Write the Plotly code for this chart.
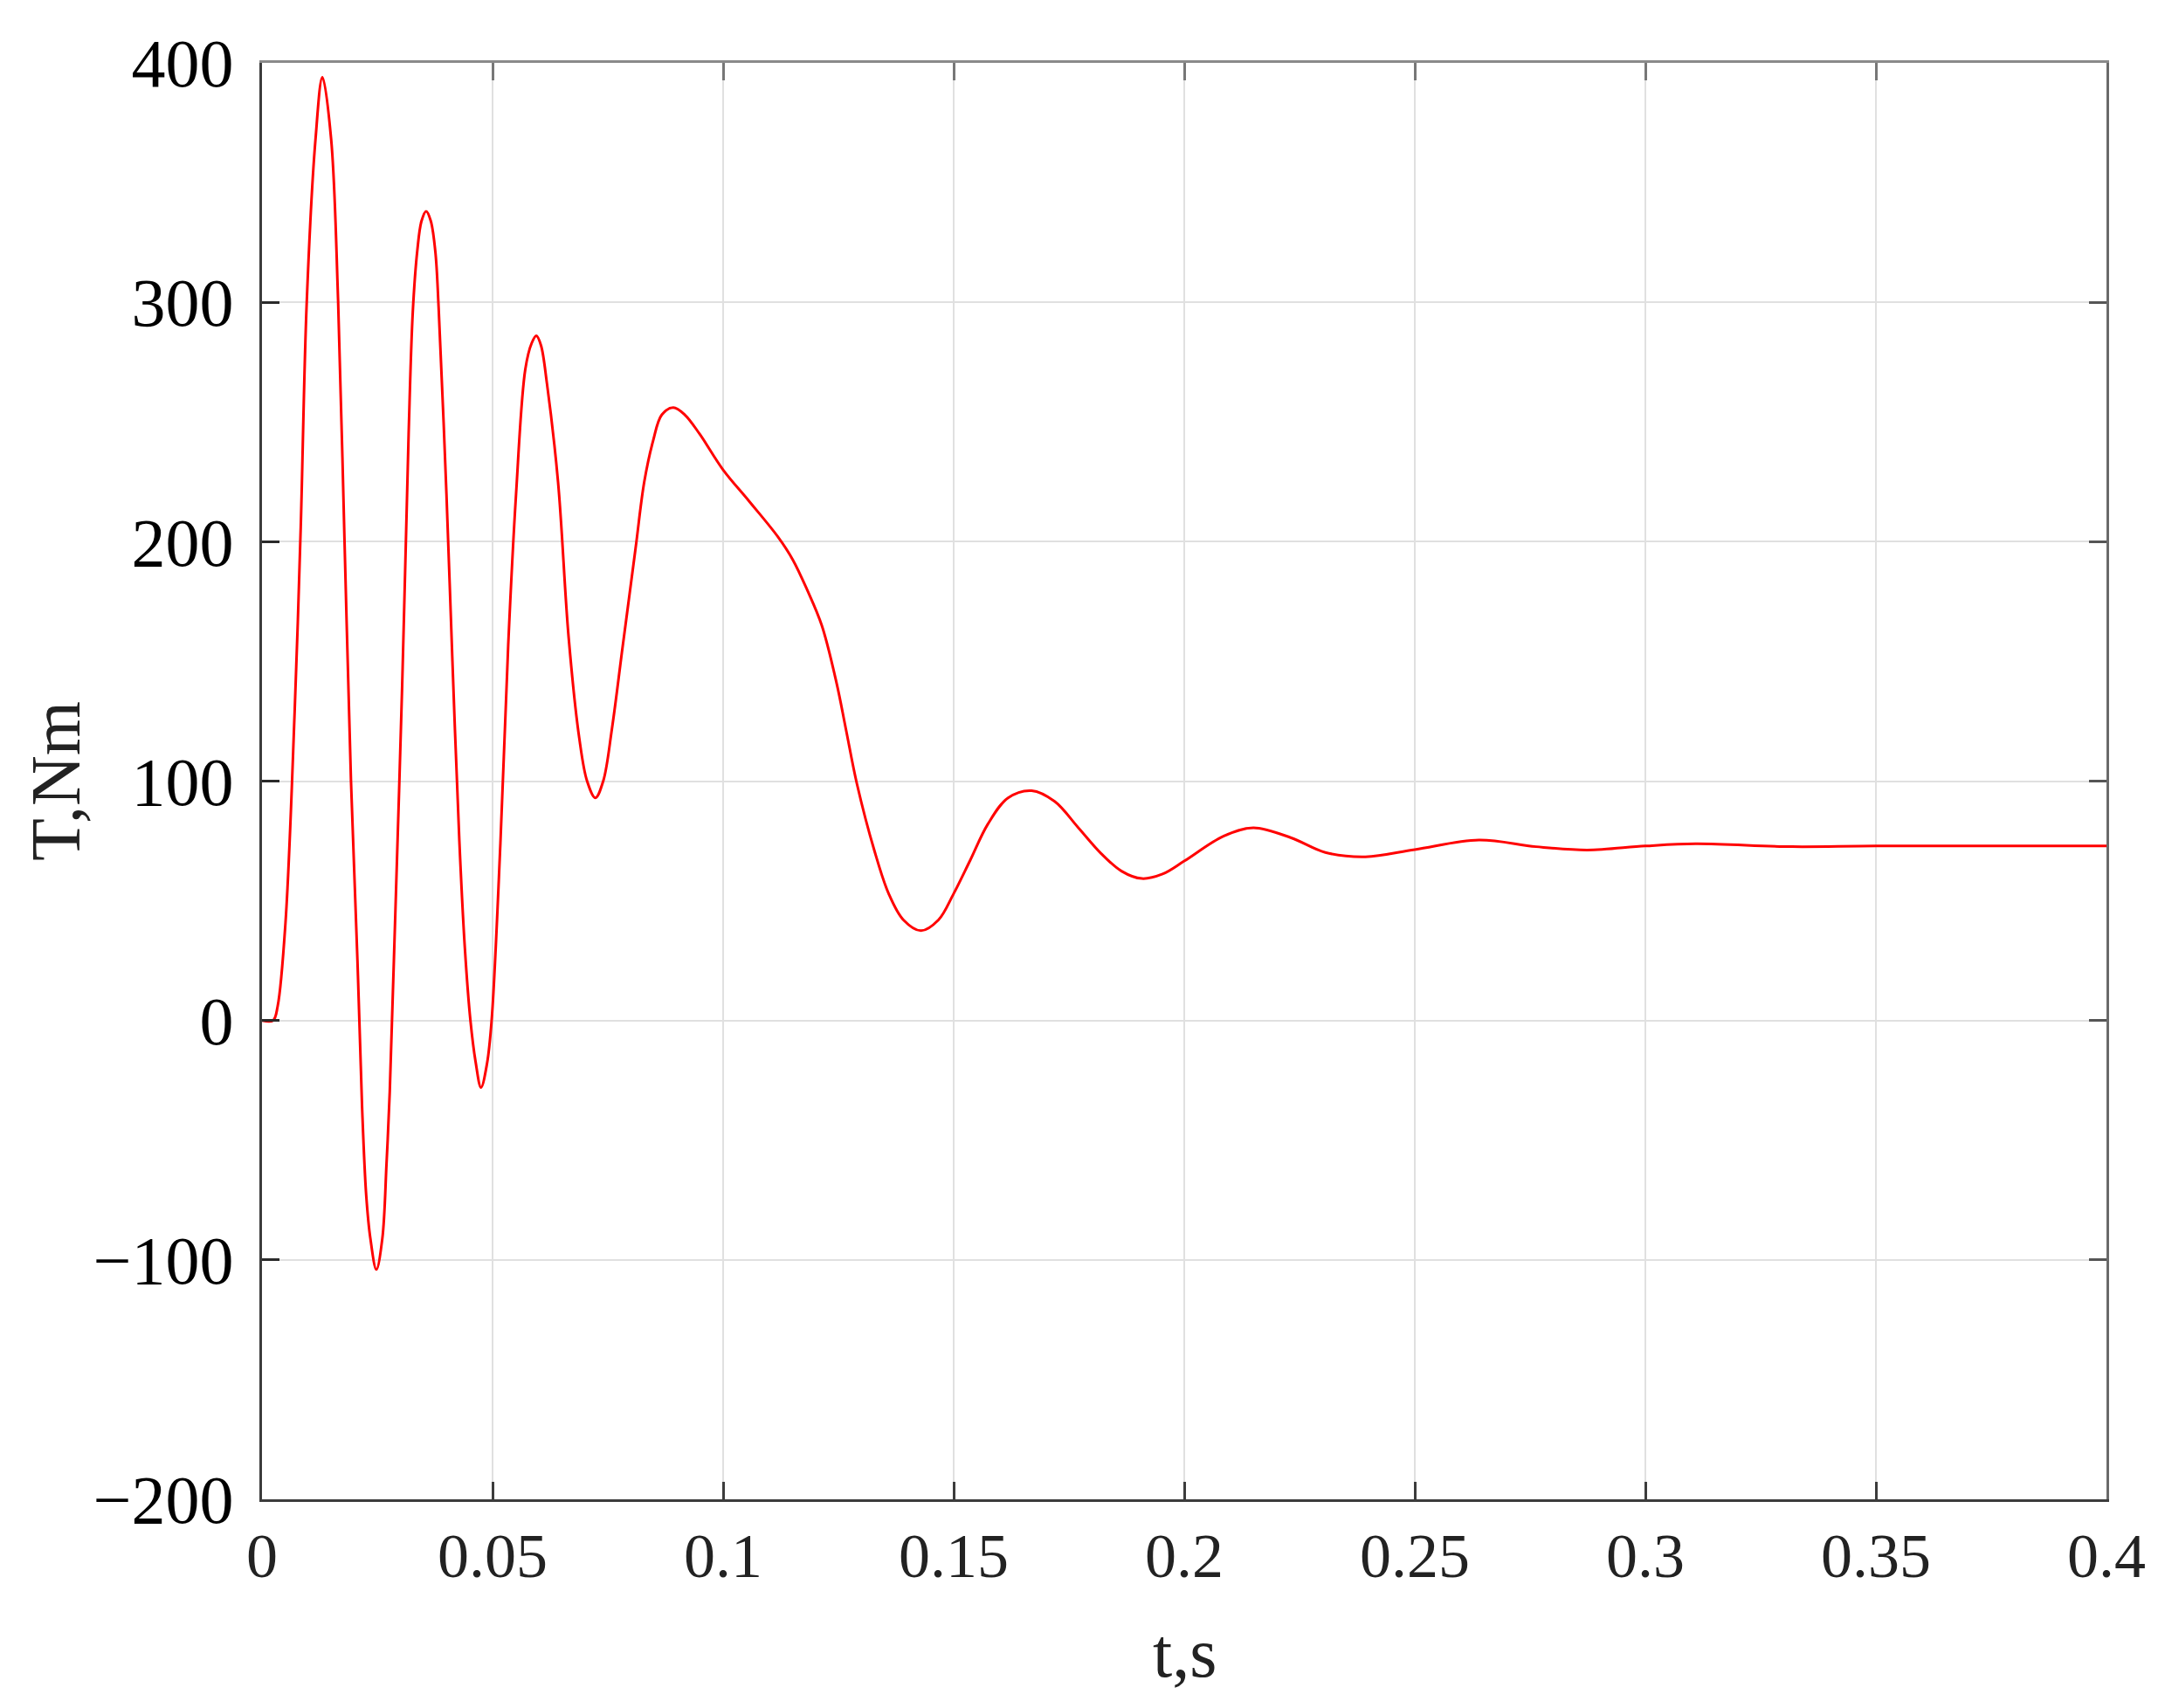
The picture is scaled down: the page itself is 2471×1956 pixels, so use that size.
import plotly.graph_objects as go

# 時間 (s) 與轉矩 (Nm)
t_s = [0.0, 0.0024, 0.0034, 0.0051, 0.0071, 0.0084, 0.0097, 0.0116, 0.0131, 0.0150,
       0.0165, 0.0179, 0.0193, 0.0207, 0.0217, 0.0226, 0.0235, 0.0248, 0.0261, 0.0270,
       0.0277, 0.0286, 0.0304, 0.0318, 0.0327, 0.0337, 0.0346, 0.0356, 0.0366, 0.0376,
       0.0383, 0.0400, 0.0413, 0.0428, 0.0440, 0.0452, 0.0463, 0.0475, 0.0488, 0.0498,
       0.0517, 0.0534, 0.0551, 0.0571, 0.0585, 0.0595, 0.0605, 0.0618, 0.0642, 0.0665,
       0.0688, 0.0705, 0.0723, 0.0740, 0.0759, 0.0782, 0.0810, 0.0829, 0.0848, 0.0867,
       0.0892, 0.0917, 0.0949, 0.1000, 0.1056, 0.1119, 0.1151, 0.1182, 0.1214, 0.1246,
       0.1266, 0.1290, 0.1328, 0.1359, 0.1391, 0.1429, 0.1467, 0.1500, 0.1536, 0.1574,
       0.1618, 0.1669, 0.1719, 0.1770, 0.1820, 0.1864, 0.1908, 0.1953, 0.2000, 0.2085,
       0.2150, 0.2232, 0.2306, 0.2393, 0.2500, 0.2639, 0.2763, 0.2874, 0.3000, 0.3109,
       0.3318, 0.3500, 0.4000]
torque_nm = [0, 0, 6, 41, 130, 206, 300, 368, 394, 368,
             301, 200, 100, 25, -36, -73, -91, -104, -91, -60,
             -30, 25, 140, 245, 296, 322, 334, 338, 334, 321,
             298, 220, 150, 75, 30, 0, -17, -28, -18, 0,
             74, 157, 220, 272, 283, 286, 282, 266, 225, 160,
             118, 100, 93, 100, 122, 156, 197, 225, 242, 253,
             256, 253, 245, 230, 217, 202, 192.5, 180, 165, 141,
             122, 99, 71, 53, 42, 37.5, 42, 53, 67, 82,
             93, 96, 91.5, 80.6, 69.7, 62.4, 59.3, 61.2, 66.6, 77,
             80.5, 76.3, 70.2, 68.4, 71.4, 75.4, 72.6, 71.2, 72.9, 73.8,
             72.6, 72.9, 72.9]

x_ticks = [0, 0.05, 0.1, 0.15, 0.2, 0.25, 0.3, 0.35, 0.4]
x_labels = ["0", "0.05", "0.1", "0.15", "0.2", "0.25", "0.3", "0.35", "0.4"]
y_ticks = [-200, -100, 0, 100, 200, 300, 400]

FONT = "Liberation Serif"

fig = go.Figure()
fig.add_trace(go.Scatter(
    x=t_s, y=torque_nm, mode="lines",
    line=dict(color="#ff0000", width=3, shape="spline", smoothing=1.0),
    showlegend=False, hoverinfo="skip",
))
# 上方與右方的淺灰色邊框（透明副軸）
fig.add_trace(go.Scatter(
    x=t_s, y=torque_nm, mode="lines", xaxis="x2", yaxis="y2",
    line=dict(width=0), opacity=0, showlegend=False, hoverinfo="skip",
))

axis_common = dict(
    showgrid=True, gridcolor="#e0e0e0", gridwidth=2,
    zeroline=False, ticks="inside", ticklen=20, tickwidth=3,
    showline=True, linewidth=3,
)

fig.update_layout(
    width=2471, height=1956,
    paper_bgcolor="white", plot_bgcolor="white",
    margin=dict(l=292, r=67, t=64, b=247),
    xaxis=dict(
        range=[0, 0.4], tickvals=x_ticks, ticktext=x_labels,
        linecolor="#3c3c3c", tickcolor="#3c3c3c",
        tickfont=dict(family=FONT, size=72, color="#222"),
        ticklabelstandoff=0, **axis_common,
    ),
    yaxis=dict(
        range=[-200, 400], tickvals=y_ticks,
        linecolor="#3c3c3c", tickcolor="#2a2a2a",
        tickfont=dict(family=FONT, size=78, color="#000"),
        ticklabelstandoff=14, **axis_common,
    ),
    xaxis2=dict(
        overlaying="x", side="top", range=[0, 0.4], tickvals=x_ticks,
        showticklabels=False, showgrid=False, zeroline=False,
        ticks="inside", ticklen=20, tickwidth=3, tickcolor="#777",
        showline=True, linewidth=3, linecolor="#8a8a8a",
    ),
    yaxis2=dict(
        overlaying="y", side="right", range=[-200, 400], tickvals=y_ticks,
        showticklabels=False, showgrid=False, zeroline=False,
        ticks="inside", ticklen=20, tickwidth=3, tickcolor="#555",
        showline=True, linewidth=3, linecolor="#6a6a6a",
    ),
)

fig.add_annotation(
    text="T,Nm", xref="paper", yref="paper", x=-0.112, y=0.5,
    xanchor="center", yanchor="middle", textangle=-90, showarrow=False,
    font=dict(family=FONT, size=80, color="#222"),
)
fig.add_annotation(
    text="t,s", xref="paper", yref="paper", x=0.5, y=-0.107,
    xanchor="center", yanchor="middle", showarrow=False,
    font=dict(family=FONT, size=80, color="#222"),
)

fig.write_html("out.html")
